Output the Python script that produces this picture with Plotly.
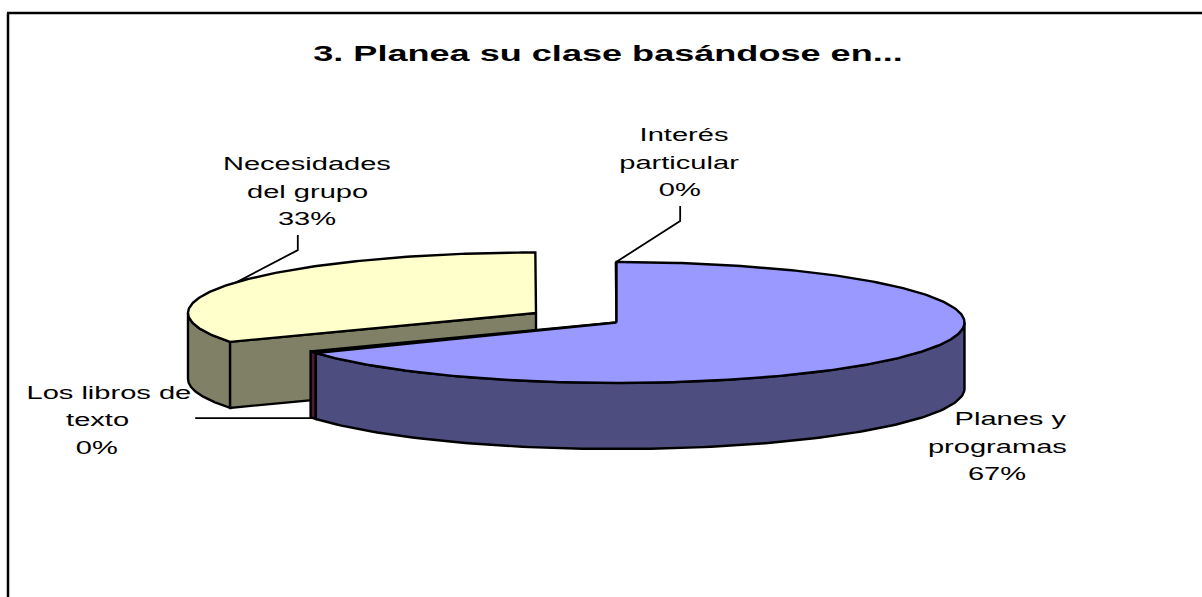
import numpy as np
import plotly.graph_objects as go

# ---- data (clockwise from 12 o'clock) ----
categories = ["Planes y programas", "Los libros de texto", "Necesidades del grupo", "Interés particular"]
label_lines = [["Planes y", "programas"], ["Los libros de", "texto"], ["Necesidades", "del grupo"], ["Interés", "particular"]]
values = [66.6, 0.49, 32.88, 0.03]   # small slivers display as 0 %
title_text = "3. Planea su clase basándose en..."
top_colors = ["#9999FF", "#993366", "#FFFFCC", "#CCFFFF"]
wall_colors = ["#4D4D80", "#4D1933", "#808066", "#668080"]

# ---- layout constants (page pixels) ----
W, H = 1202, 597
CX, CY = 616.5, 322.5     # pie centre
RX, RY = 348, 60.5        # ellipse radii of the tilted disc
DEPTH = 66                # height of the pie wall
EXPLODE = {2: (-80.5, -9.5)}  # offset of the pulled-out slice
# label line centres: one entry per text line, (x, y)
label_pos = {
    0: [(1010, 418), (997, 446), (997, 473)],
    1: [(109, 392), (97, 419), (97, 447)],
    2: [(307, 163), (307, 191), (307, 218)],
    3: [(684, 134), (679, 162), (680, 189)],
}
# leader path relative to the slice's mid-edge anchor
leaders = {
    1: [(-118, 0)],
    2: [(61, -32), (61, -47)],
    3: [(64, -41), (64, -56)],
}
LABEL_STRETCH, TITLE_STRETCH = 1.53, 1.64

fractions = np.array(values) / sum(values)
edges = np.concatenate([[0], np.cumsum(fractions)]) * 2 * np.pi


def edge(theta, off=(0, 0), dy=0):
    theta = np.asarray(theta)
    return CX + off[0] + RX * np.sin(theta), CY + off[1] - RY * np.cos(theta) + dy


def polygon(x, y, color, name):
    return go.Scatter(x=x, y=y, mode="lines", fill="toself", fillcolor=color, name=name,
                      line=dict(color="black", width=2.4), hoverinfo="skip", showlegend=False)


def slice_traces(i):
    t0, t1 = edges[i], edges[i + 1]
    off = EXPLODE.get(i, (0, 0))
    apex = (CX + off[0], CY + off[1])
    out = []
    # visible outer wall: the front half of the rim (90°..270°)
    a, b = max(t0, np.pi / 2), min(t1, 3 * np.pi / 2)
    if b > a:
        th = np.linspace(a, b, 120)
        x, y = edge(th, off)
        xb, yb = edge(th[::-1], off, DEPTH)
        out.append(polygon(np.r_[x, xb, x[0]], np.r_[y, yb, y[0]], wall_colors[i], categories[i]))
    # cut face seen from the front, for a pulled-out slice
    if i in EXPLODE:
        x, y = edge(t0, off)
        out.append(polygon([apex[0], x, x, apex[0], apex[0]],
                           [apex[1], y, y + DEPTH, apex[1] + DEPTH, apex[1]],
                           wall_colors[i], categories[i]))
    # top face
    th = np.linspace(t0, t1, max(3, int((t1 - t0) * 80)))
    x, y = edge(th, off)
    out.append(polygon(np.r_[apex[0], x, apex[0]], np.r_[apex[1], y, apex[1]], top_colors[i], categories[i]))
    return out


fig = go.Figure()
for i in [2, 3, 1, 0]:   # back to front
    for tr in slice_traces(i):
        fig.add_trace(tr)

# leader lines, anchored on each slice's mid-edge
for i, path in leaders.items():
    mid = (edges[i] + edges[i + 1]) / 2
    ax, ay = edge(mid, EXPLODE.get(i, (0, 0)), DEPTH if i == 1 else 0)
    fig.add_trace(go.Scatter(x=[ax] + [ax + p[0] for p in path], y=[ay] + [ay + p[1] for p in path],
                             mode="lines", line=dict(color="black", width=1.8),
                             hoverinfo="skip", showlegend=False))

# labels
annotations = []
for i, lines in enumerate(label_lines):
    texts = lines + [f"{values[i]:.0f}%"]
    for txt, (x, y) in zip(texts, label_pos[i]):
        annotations.append(dict(x=x, y=y, xref="x", yref="y", text=txt, showarrow=False,
                                xanchor="center", yanchor="middle",
                                font=dict(family="Liberation Sans, Arial, sans-serif", size=19, color="black")))

fig.update_layout(
    width=W, height=H, margin=dict(l=0, r=0, t=0, b=0),
    paper_bgcolor="white", plot_bgcolor="white", showlegend=False,
    title=dict(text=title_text, x=608 / W, xanchor="center", y=1 - 53 / H, yanchor="middle",
               font=dict(family="Liberation Sans, Arial, sans-serif", size=22, color="black", weight="bold")),
    xaxis=dict(range=[0, W], visible=False, fixedrange=True),
    yaxis=dict(range=[H, 0], visible=False, fixedrange=True),
    annotations=annotations,
    shapes=[dict(type="line", xref="x", yref="y", x0=8, y0=H, x1=8, y1=13, line=dict(color="black", width=2.5)),
            dict(type="line", xref="x", yref="y", x0=7, y0=13, x1=W, y1=13, line=dict(color="black", width=2.5))],
)

post = """
document.body.style.margin = '0';
function stretch(sel, k) {
  document.querySelectorAll(sel).forEach(function (t) {
    t.style.transformBox = 'fill-box';
    t.style.transformOrigin = 'center';
    t.style.transform = 'scaleX(' + k + ')';
  });
}
stretch('.annotation-text', %s);
stretch('.gtitle', %s);
""" % (LABEL_STRETCH, TITLE_STRETCH)

fig.write_html("out.html", post_script=post, config=dict(displayModeBar=False))
